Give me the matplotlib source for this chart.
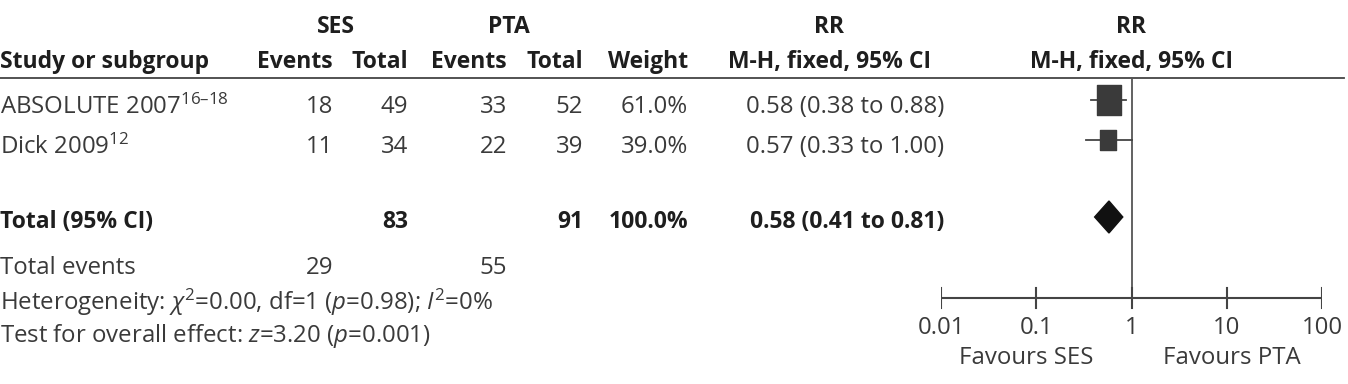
import matplotlib
matplotlib.use("Agg")
import matplotlib.pyplot as plt
from matplotlib.path import Path

plt.rcParams['font.family'] = ['Open Sans', 'DejaVu Sans']
plt.rcParams['mathtext.fontset'] = 'custom'
plt.rcParams['mathtext.rm'] = 'Open Sans'
plt.rcParams['mathtext.it'] = 'Open Sans:italic'
plt.rcParams['mathtext.bf'] = 'Open Sans:bold'

# ---------------- DATA ----------------
studies = ["ABSOLUTE 2007$^{16\u201318}$", "Dick 2009$^{12}$"]
ses_events = [18, 11]
ses_total = [49, 34]
pta_events = [33, 22]
pta_total = [52, 39]
weights = [61.0, 39.0]
rr = [0.58, 0.57]
rr_lo = [0.38, 0.33]
rr_hi = [0.88, 1.00]

tot_ses = 83
tot_pta = 91
tot_weight = 100.0
tot_rr, tot_lo, tot_hi = 0.58, 0.41, 0.81
tot_ses_events = 29
tot_pta_events = 55

heterogeneity = r"Heterogeneity: $\chi^2$=0.00, df=1 ($p$=0.98); $I^2$=0%"
overall = r"Test for overall effect: $z$=3.20 ($p$=0.001)"

ticks = [0.01, 0.1, 1, 10, 100]
tick_labels = ["0.01", "0.1", "1", "10", "100"]
favours = ["Favours SES", "Favours PTA"]

# ---------------- LAYOUT ----------------
W, H = 1348, 384
FS = 17.3
FSB = 16.5
TXT = "#3a3a3a"
DARK = "#1e1e1e"
row_y = [107, 147]
y_total = 222
y_events = 268
y_het = 302
y_test = 336
col_right = [333, 408, 507, 583, 688]
ci_right = 944

fig = plt.figure(figsize=(W / 100, H / 100), dpi=100)
ax = fig.add_axes([0, 0, 1, 1])
ax.set_xlim(0, W)
ax.set_ylim(H, 0)
ax.axis("off")

def t(x, y, s, ha="left", bold=False):
    ax.text(x, y, s, ha=ha, va="center", fontsize=FSB if bold else FS,
            fontweight="bold" if bold else "normal",
            color=DARK if bold else TXT)

# headers
t(336, 27, "SES", ha="center", bold=True)
t(509, 27, "PTA", ha="center", bold=True)
t(829, 27, "RR", ha="center", bold=True)
t(1131, 27, "RR", ha="center", bold=True)
t(0, 62, "Study or subgroup", bold=True)
for x, s in zip(col_right, ["Events", "Total", "Events", "Total", "Weight"]):
    t(x, 62, s, ha="right", bold=True)
t(829, 62, "M-H, fixed, 95% CI", ha="center", bold=True)
t(1131, 62, "M-H, fixed, 95% CI", ha="center", bold=True)
ax.plot([0, 1344], [78, 78], color="#444444", lw=1.3)

# study rows
for i, y in enumerate(row_y):
    t(0, y, studies[i])
    vals = [ses_events[i], ses_total[i], pta_events[i], pta_total[i]]
    for x, v in zip(col_right[:4], vals):
        t(x, y, str(v), ha="right")
    t(col_right[4], y, f"{weights[i]:.1f}%", ha="right")
    t(ci_right, y, f"{rr[i]:.2f} ({rr_lo[i]:.2f} to {rr_hi[i]:.2f})", ha="right")

# totals
t(0, y_total, "Total (95% CI)", bold=True)
t(col_right[1], y_total, str(tot_ses), ha="right", bold=True)
t(col_right[3], y_total, str(tot_pta), ha="right", bold=True)
t(col_right[4], y_total, f"{tot_weight:.1f}%", ha="right", bold=True)
t(ci_right, y_total, f"{tot_rr:.2f} ({tot_lo:.2f} to {tot_hi:.2f})", ha="right", bold=True)

t(0, y_events, "Total events")
t(col_right[0], y_events, str(tot_ses_events), ha="right")
t(col_right[2], y_events, str(tot_pta_events), ha="right")
t(0, y_het, heterogeneity)
t(0, y_test, overall)

# ---------------- FOREST PLOT ----------------
x0, x1 = 941, 1322
fx = fig.add_axes([x0 / W, 0, (x1 - x0) / W, 1])
fx.set_xscale("log")
fx.set_xlim(ticks[0], ticks[-1])
fx.set_ylim(H, 0)
fx.axis("off")
fx.patch.set_alpha(0)

y_axis = 298
fx.plot([1, 1], [78, y_axis], color="#555555", lw=1.3)
fx.plot([ticks[0], ticks[-1]], [y_axis, y_axis], color="#444444", lw=1.5)
for tk, lab in zip(ticks, tick_labels):
    fx.plot([tk, tk], [288, 308], color="#444444", lw=1.5)
    fx.text(tk, 328, lab, ha="center", va="center", fontsize=FS, color=TXT)
fx.text(0.223, (H - 358) / H, favours[0], ha="center", va="center", fontsize=FS, color=TXT, transform=fx.transAxes)
fx.text(0.764, (H - 358) / H, favours[1], ha="center", va="center", fontsize=FS, color=TXT, transform=fx.transAxes)

# slightly tall square marker, size by weight
sq = Path([(-0.8, -1), (0.8, -1), (0.8, 1), (-0.8, 1), (-0.8, -1)],
          [Path.MOVETO, Path.LINETO, Path.LINETO, Path.LINETO, Path.CLOSEPOLY])
for i in range(len(rr)):
    y = row_y[i] - 7
    fx.plot([rr_lo[i], rr_hi[i]], [y, y], color="#444444", lw=1.3, zorder=2)
    ms = 4.2 + 0.275 * weights[i]
    fx.plot([rr[i]], [y], marker=sq, ms=ms, color="#3a3a3a", mec="#3a3a3a", zorder=3)

# pooled diamond
yd = y_total - 5
fx.fill([tot_lo, tot_rr, tot_hi, tot_rr], [yd, yd - 16, yd, yd + 16], color="#111111", zorder=3)

fig.savefig("out.png", dpi=100)
